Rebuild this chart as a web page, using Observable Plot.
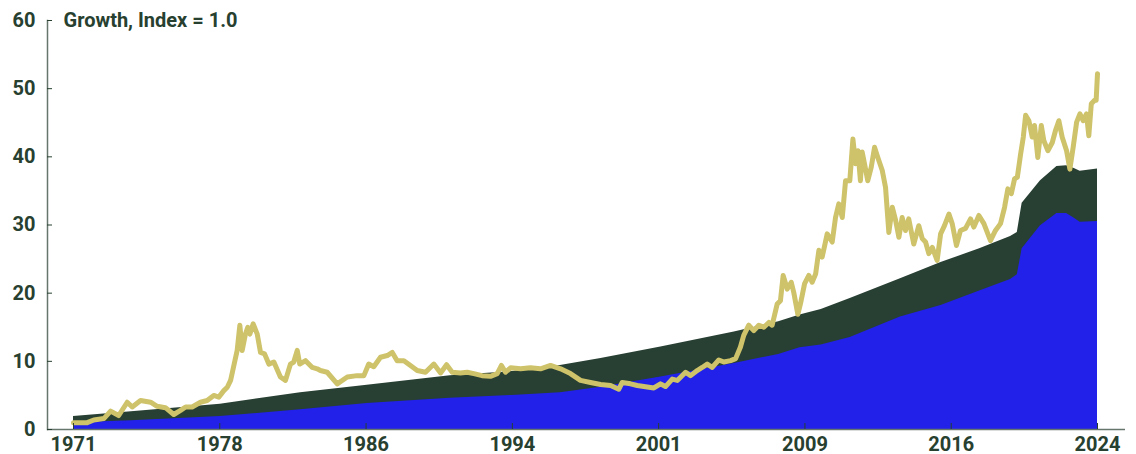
<!DOCTYPE html>
<html>
<head>
<meta charset="utf-8">
<script src="https://cdn.jsdelivr.net/npm/d3@7"></script>
<script src="https://cdn.jsdelivr.net/npm/@observablehq/plot@0.6"></script>
<style>
  html, body { margin: 0; padding: 0; background: #ffffff; }
  #chart svg { display: block; }
</style>
</head>
<body>
<div id="chart"></div>
<script>
// ---------- data ----------
const titleText = "Growth, Index = 1.0";

const xTickLabels = ["1971", "1978", "1986", "1994", "2001", "2009", "2016", "2024"];
const startYear = 1971;
const endYear = 2024;
const yTicks = [0, 10, 20, 30, 40, 50, 60];

// areas (top of dark green = total, top of blue = lower series)
const areaYear = [1971.0, 1974.0, 1978.6, 1982.75, 1986.2, 1990.5, 1993.7, 1996.2, 1998.3, 2001.4, 2005.2, 2007.5, 2008.6, 2009.7, 2011.2, 2013.8, 2015.9, 2017.9, 2019.5, 2019.85, 2020.1, 2021.05, 2021.9, 2022.4, 2022.8, 2023.1, 2024.0];
const totalValue = [1.9, 2.6, 3.7, 5.4, 6.5, 7.9, 8.5, 9.4, 10.4, 12.1, 14.3, 15.8, 16.8, 17.6, 19.2, 22.1, 24.5, 26.5, 28.3, 28.9, 33.2, 36.5, 38.6, 38.7, 38.3, 37.9, 38.2];
const blueValue  = [1.0, 1.3, 1.9, 2.9, 3.8, 4.6, 5.0, 5.4, 6.2, 7.7, 9.7, 11.0, 12.0, 12.4, 13.5, 16.5, 18.2, 20.3, 22.0, 22.7, 26.5, 29.9, 31.7, 31.7, 31.0, 30.4, 30.5];

// gold line
const goldYear = [1971.00,1971.71,1972.05,1972.57,1972.92,1973.34,1973.78,1974.04,1974.47,1974.99,1975.33,1975.76,1976.19,1976.54,1976.80,1977.14,1977.57,1977.92,1978.26,1978.52,1978.78,1978.96,1979.13,1979.30,1979.47,1979.61,1979.73,1979.90,1980.02,1980.13,1980.30,1980.51,1980.68,1980.89,1981.11,1981.37,1981.71,1981.97,1982.23,1982.40,1982.58,1982.71,1983.01,1983.36,1983.61,1983.78,1984.13,1984.65,1985.17,1985.68,1986.03,1986.28,1986.54,1986.89,1987.24,1987.50,1987.75,1988.10,1988.44,1988.79,1989.22,1989.65,1990.00,1990.31,1990.60,1991.03,1991.38,1991.72,1992.15,1992.58,1992.93,1993.15,1993.36,1993.62,1994.14,1994.65,1995.17,1995.69,1996.21,1996.72,1997.24,1997.76,1998.28,1998.80,1999.22,1999.40,1999.83,2000.18,2000.52,2001.04,2001.38,2001.64,2001.99,2002.25,2002.68,2002.94,2003.28,2003.54,2003.80,2004.06,2004.40,2004.66,2005.01,2005.27,2005.52,2005.69,2005.95,2006.21,2006.47,2006.73,2006.99,2007.16,2007.42,2007.59,2007.73,2007.94,2008.15,2008.28,2008.49,2008.63,2008.84,2009.06,2009.23,2009.41,2009.58,2009.75,2010.01,2010.27,2010.44,2010.61,2010.79,2010.96,2011.18,2011.34,2011.48,2011.60,2011.73,2011.82,2011.94,2012.11,2012.29,2012.46,2012.63,2012.86,2013.03,2013.20,2013.38,2013.55,2013.72,2013.89,2014.06,2014.23,2014.49,2014.75,2014.93,2015.10,2015.27,2015.45,2015.70,2015.88,2016.08,2016.31,2016.48,2016.70,2016.91,2017.17,2017.43,2017.60,2017.86,2018.12,2018.46,2018.72,2018.98,2019.19,2019.36,2019.54,2019.71,2019.85,2020.02,2020.16,2020.28,2020.45,2020.62,2020.74,2020.91,2021.09,2021.22,2021.43,2021.66,2021.83,2022.00,2022.17,2022.40,2022.57,2022.74,2022.92,2023.09,2023.26,2023.43,2023.55,2023.68,2023.85,2023.93,2024.00];
const goldValue = [1.0,1.0,1.4,1.6,2.7,2.05,4.0,3.3,4.25,4.0,3.4,3.2,2.2,2.8,3.3,3.3,4.0,4.25,5.0,4.75,5.7,6.2,7.2,9.4,11.6,15.3,11.6,14.0,15.0,14.0,15.5,14.0,11.3,11.1,9.6,9.9,7.7,7.2,9.6,9.9,11.6,9.6,10.1,9.1,8.9,8.65,8.4,6.7,7.7,7.9,7.9,9.6,9.2,10.6,10.85,11.3,10.1,10.1,9.4,8.65,8.4,9.6,8.3,9.5,8.4,8.3,8.4,8.2,7.9,7.8,8.2,9.4,8.4,9.05,8.9,9.05,8.9,9.4,8.9,8.2,7.2,6.9,6.6,6.45,5.9,6.9,6.7,6.45,6.3,6.1,6.7,6.3,7.4,7.2,8.4,7.9,8.65,9.1,9.6,9.1,10.2,9.9,10.1,10.4,12.1,13.8,15.3,14.5,15.3,15.0,15.7,15.3,18.4,18.9,22.6,20.6,21.6,20.1,16.9,18.5,21.4,22.6,21.6,22.8,26.3,25.3,28.7,27.5,31.1,33.1,31.1,36.5,36.5,42.6,39.0,40.9,36.5,40.7,39.0,36.5,38.5,41.4,39.9,38.0,35.5,28.9,32.6,30.7,28.2,31.1,29.2,30.9,27.2,29.9,28.0,27.5,25.8,26.7,24.8,28.7,29.9,31.6,30.2,27.0,29.2,29.5,30.9,29.7,31.4,30.2,27.7,29.2,30.2,32.6,35.3,34.6,36.8,37.0,40.4,42.9,46.1,45.3,42.9,44.6,39.9,44.6,42.4,40.9,42.1,43.9,45.3,42.9,40.9,38.2,41.4,45.1,46.3,45.3,46.3,43.1,47.8,48.3,48.3,52.2];

// ---------- build tables ----------
const areaRows = areaYear.map((x, i) => ({x, total: totalValue[i], blue: blueValue[i]}));
const goldRows = goldYear.map((x, i) => ({x, y: goldValue[i]}));
const xTicks = xTickLabels.map((_, i) => startYear + i * (endYear - startYear) / (xTickLabels.length - 1));
const labelOf = new Map(xTicks.map((t, i) => [t, xTickLabels[i]]));

const ink = "#27402f";
const green = "#283f33";
const blue = "#2121ea";
const gold = "#cec36a";
const axisGrey = "#66766c";

const chart = Plot.plot({
  width: 1136,
  height: 454,
  marginLeft: 47,
  marginRight: 11,
  marginTop: 20,
  marginBottom: 25,
  style: {fontFamily: "Roboto, 'Liberation Sans', sans-serif", fontWeight: 700, fontSize: "20px", color: ink, background: "#ffffff", overflow: "visible"},
  x: {domain: [startYear, endYear], insetLeft: 26, insetRight: 28, label: null},
  y: {domain: [0, 60], label: null},
  marks: [
    Plot.areaY(areaRows, {x: "x", y: "total", fill: green}),
    Plot.areaY(areaRows, {x: "x", y: "blue", fill: blue}),
    Plot.line(goldRows, {x: "x", y: "y", stroke: gold, strokeWidth: 5, strokeLinejoin: "round", strokeLinecap: "round"}),
    Plot.frame({anchor: "left", stroke: axisGrey, strokeWidth: 1.5}),
    Plot.ruleY([0], {stroke: axisGrey, strokeWidth: 1.5}),
    Plot.axisY({ticks: yTicks, tickSize: 5, dx: 5, tickPadding: 12, tickFormat: d => String(d), stroke: ink, fill: ink, label: null}),
    Plot.axisX({ticks: xTicks, tickSize: 6, dy: -6, tickPadding: 7, tickFormat: d => labelOf.get(d), stroke: ink, fill: ink, label: null}),
    Plot.text([titleText], {frameAnchor: "top-left", dx: 16, dy: 0, textAnchor: "start", lineAnchor: "middle", fill: ink})
  ]
});
document.getElementById("chart").appendChild(chart);
</script>
</body>
</html>
